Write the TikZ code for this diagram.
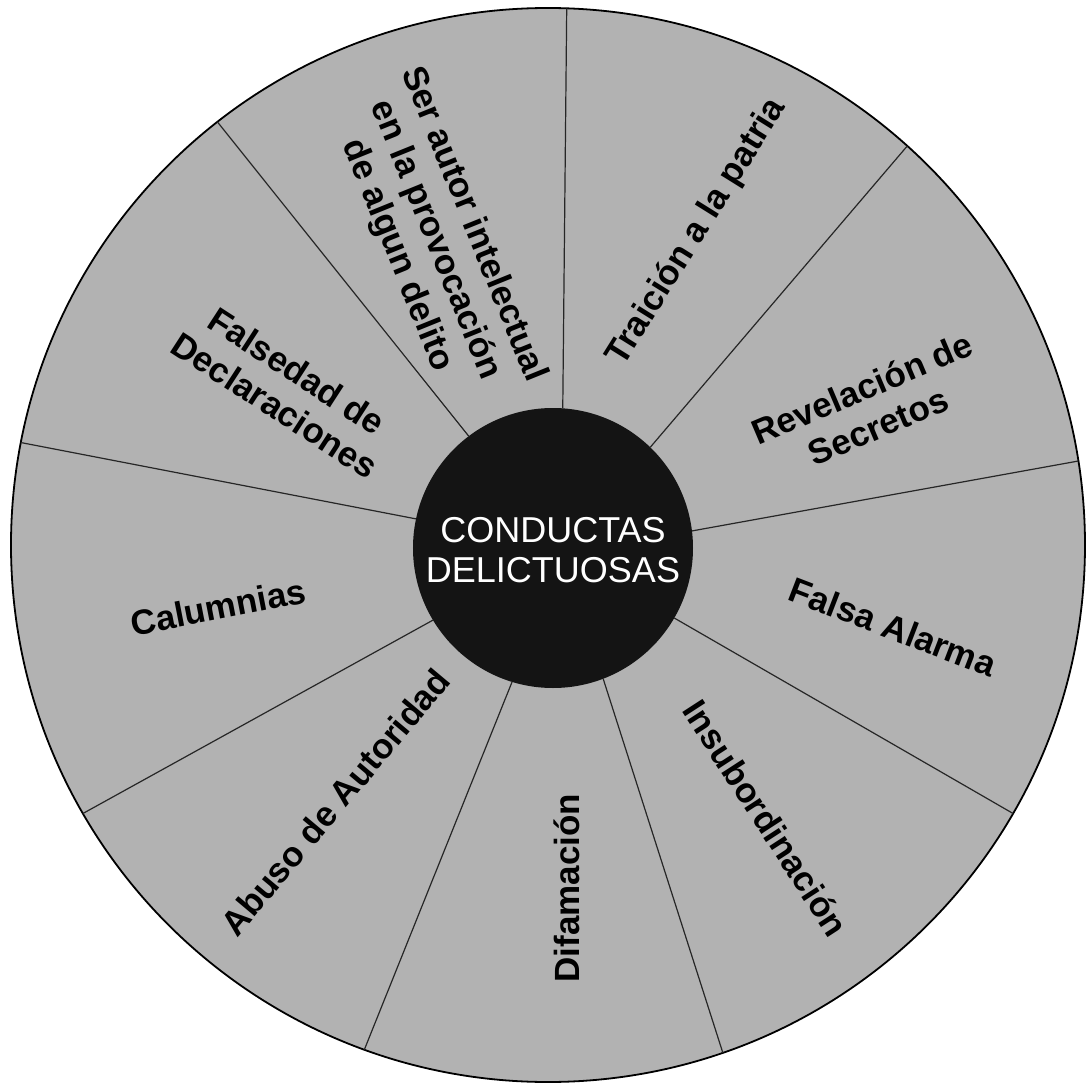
\documentclass[tikz,border=0pt]{standalone}
\usepackage{fontspec}
\setmainfont{Liberation Sans}
\begin{document}
\begin{tikzpicture}[x=0.5pt,y=0.5pt,
  lab/.style={font=\bfseries\fontsize{17.5}{20.5}\selectfont, align=center, inner sep=0pt, text=black},
  spoke/.style={line width=0.6pt, draw=black!85},
  wedgefill/.style={fill=black!30}]
\useasboundingbox (-548,-537) rectangle (544,545);
\node[circle, draw=black, line width=0.9pt, wedgefill, minimum size=537pt, inner sep=0pt, outer sep=0pt] (rim) at (0,0) {};
\node[circle, fill=black!92, minimum size=140pt, inner sep=0pt, outer sep=0pt] (hub) at (5,-3) {};
\node[text=white, align=center, inner sep=0pt, font=\fontsize{18}{20}\selectfont] (hubtext) at (5,-5) {CONDUCTAS\\DELICTUOSAS};
\foreach \a/\b in {86.4/88.7, 46.9/48.5, 7.7/9, 330.6/330.5, 291.5/289, 253.5/250.5, 211/210.4, 168.9/169.9, 127.4/128.6}
  \draw[spoke] (hub.\a) -- (rim.\b);
\node[lab, rotate=-68] (ser) at (-113,305) {Ser autor intelectual\\en la provocación\\de algun delito};
\node[lab, rotate=58] (trai) at (149,313) {Traición a la patria};
\node[lab, rotate=23] (rev) at (322,138) {Revelación de\\Secretos};
\node[lab, rotate=-21] (fal) at (345,-82) {Falsa Alarma};
\node[lab, rotate=-57] (insu) at (218,-273) {Insubordinación};
\node[lab, rotate=90] (difa) at (19,-343) {Difamación};
\node[lab, rotate=50] (abu) at (-213,-257) {Abuso de Autoridad};
\node[lab, rotate=11] (calu) at (-330,-62) {Calumnias};
\node[lab, rotate=-33] (fdec) at (-262,157) {Falsedad de\\Declaraciones};
\end{tikzpicture}
\end{document}
